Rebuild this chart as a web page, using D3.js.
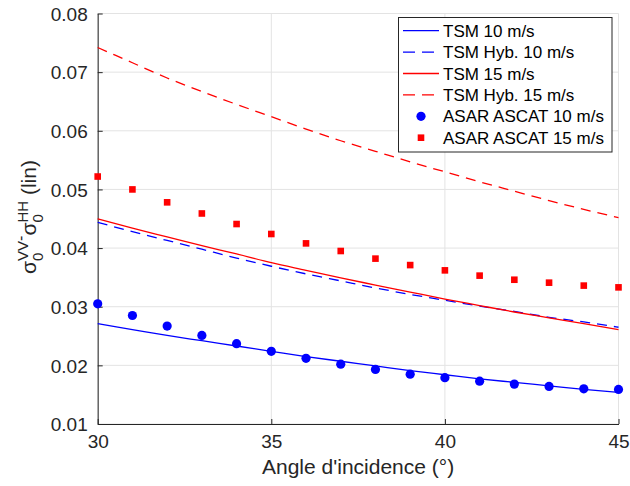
<!DOCTYPE html>
<html>
<head>
<meta charset="utf-8">
<script src="https://cdn.jsdelivr.net/npm/d3@7"></script>
<style>
  html, body { margin: 0; padding: 0; background: #fff; }
  svg { display: block; font-family: "Liberation Sans", Arial, Helvetica, sans-serif; }
</style>
</head>
<body>
<svg id="chart" width="630" height="486"></svg>
<script>
// ---- Data ----
const angles = [30,31,32,33,34,35,36,37,38,39,40,41,42,43,44,45];
const tsm10    = [0.0271,0.0261,0.0251,0.0242,0.0233,0.0224,0.0215,0.0207,0.0199,0.0191,0.0184,0.0177,0.0171,0.0165,0.0159,0.0154];
const tsmHyb10 = [0.0444,0.0428,0.0413,0.0398,0.0383,0.0369,0.0356,0.0344,0.0332,0.0321,0.0311,0.0301,0.0292,0.0282,0.0274,0.0265];
const tsm15    = [0.0450,0.0434,0.0419,0.0404,0.0390,0.0375,0.0362,0.0349,0.0337,0.0325,0.0313,0.0302,0.0291,0.0281,0.0271,0.0261];
const tsmHyb15 = [0.0742,0.0716,0.0690,0.0667,0.0645,0.0624,0.0603,0.0583,0.0565,0.0547,0.0530,0.0513,0.0497,0.0481,0.0466,0.0452];
const asar10   = [0.0305,0.0285,0.0267,0.0251,0.0237,0.0224,0.0212,0.0202,0.0193,0.0185,0.0179,0.0173,0.0168,0.0164,0.0160,0.0159];
const asar15   = [0.0522,0.0500,0.0478,0.0459,0.0441,0.0424,0.0408,0.0395,0.0382,0.0371,0.0362,0.0353,0.0346,0.0341,0.0336,0.0333];
const xTicks = [30,35,40,45];
const yTicks = [0.01,0.02,0.03,0.04,0.05,0.06,0.07,0.08];
const legendLabels = ["TSM 10 m/s","TSM Hyb. 10 m/s","TSM 15 m/s","TSM Hyb. 15 m/s","ASAR ASCAT 10 m/s","ASAR ASCAT 15 m/s"];

// ---- Layout ----
const svg = d3.select("#chart");
const L = 97.7, R = 618.5, T = 13.5, B = 424;
const x = d3.scaleLinear().domain([30,45]).range([L,R]);
const y = d3.scaleLinear().domain([0.01,0.08]).range([B,T]);
const axisCol = "#262626", gridCol = "#e3e3e3";

// grid
const g = svg.append("g");
g.selectAll(".gx").data(xTicks).join("line")
  .attr("x1", d=>x(d)).attr("x2", d=>x(d)).attr("y1", T).attr("y2", B)
  .attr("stroke", gridCol).attr("stroke-width", 1);
g.selectAll(".gy").data(yTicks).join("line")
  .attr("x1", L).attr("x2", R).attr("y1", d=>y(d)).attr("y2", d=>y(d))
  .attr("stroke", gridCol).attr("stroke-width", 1);

// axes
const xAxis = svg.append("g").attr("transform", `translate(0,${B})`)
  .call(d3.axisBottom(x).tickValues(xTicks).tickSizeInner(-5).tickSizeOuter(0).tickPadding(10).tickFormat(d3.format("d")));
const yAxis = svg.append("g").attr("transform", `translate(${L},0)`)
  .call(d3.axisLeft(y).tickValues(yTicks).tickSizeInner(-5).tickSizeOuter(0).tickPadding(10).tickFormat(d3.format(".2f")));
[xAxis, yAxis].forEach(a => {
  a.select(".domain").attr("stroke", axisCol).attr("stroke-width", 1);
  a.selectAll(".tick line").attr("stroke", axisCol);
  a.selectAll(".tick text").attr("fill", axisCol).style("font-size", "19px")
   .style("font-family", '"Liberation Sans", Arial, sans-serif');
});
xAxis.selectAll(".tick text").attr("dy", "0.72em");
yAxis.selectAll(".tick text").attr("dy", "0.35em");

// lines
const line = d3.line().x((d,i)=>x(angles[i])).y(d=>y(d)).curve(d3.curveMonotoneX);
const series = [
  {v: tsm10, c: "#0000ff", dash: null},
  {v: tsmHyb10, c: "#0000ff", dash: "10,7"},
  {v: tsm15, c: "#ff0000", dash: null},
  {v: tsmHyb15, c: "#ff0000", dash: "10,7"}
];
series.forEach(s => {
  svg.append("path").datum(s.v).attr("d", line)
    .attr("fill", "none").attr("stroke", s.c).attr("stroke-width", 1.3)
    .attr("stroke-dasharray", s.dash);
});

// markers
svg.append("g").selectAll("circle").data(asar10).join("circle")
  .attr("cx", (d,i)=>x(angles[i])).attr("cy", d=>y(d)).attr("r", 4.6).attr("fill", "#0000ff");
const sq = 6.6;
svg.append("g").selectAll("rect").data(asar15).join("rect")
  .attr("x", (d,i)=>x(angles[i]) - sq/2).attr("y", d=>y(d) - sq/2)
  .attr("width", sq).attr("height", sq).attr("fill", "#ff0000");

// x label
svg.append("text").attr("x", (L+R)/2).attr("y", 474).attr("text-anchor", "middle")
  .attr("fill", axisCol).style("font-size", "21px").text("Angle d'incidence (°)");

// y label
const yl = svg.append("text").attr("transform", "translate(35.5,217) rotate(-90)")
  .attr("text-anchor", "middle").attr("fill", axisCol).style("font-size", "21px");
yl.append("tspan").text("σ");
yl.append("tspan").style("font-size", "15px").attr("dy", 7.5).text("0");
yl.append("tspan").style("font-size", "15px").attr("dx", -8.3).attr("dy", -15.5).text("VV");
yl.append("tspan").style("font-size", "16px").attr("dy", -2).text("-");
yl.append("tspan").attr("dy", 10).text("σ");
yl.append("tspan").style("font-size", "15px").attr("dy", 7.5).text("0");
yl.append("tspan").style("font-size", "15px").attr("dx", -8.3).attr("dy", -15.5).text("HH");
yl.append("tspan").attr("dy", 8).text(" (lin)");

// legend
const lg = svg.append("g");
lg.append("rect").attr("x", 398.5).attr("y", 17.5).attr("width", 213.5).attr("height", 134.5)
  .attr("fill", "#fff").attr("stroke", axisCol).attr("stroke-width", 1);
const ly0 = 30.7, lstep = 21.4;
legendLabels.forEach((lab, i) => {
  const yy = ly0 + i*lstep;
  if (i < 4) {
    const s = series[i];
    lg.append("line").attr("x1", 403).attr("x2", 439).attr("y1", yy).attr("y2", yy)
      .attr("stroke", s.c).attr("stroke-width", 1.3).attr("stroke-dasharray", s.dash ? "12,7" : null);
  } else if (i === 4) {
    lg.append("circle").attr("cx", 421).attr("cy", yy).attr("r", 4.6).attr("fill", "#0000ff");
  } else {
    lg.append("rect").attr("x", 421 - sq/2).attr("y", yy - sq/2).attr("width", sq).attr("height", sq).attr("fill", "#ff0000");
  }
  lg.append("text").attr("x", 443).attr("y", yy).attr("dy", "0.36em")
    .attr("fill", "#000").style("font-size", "17px").text(lab);
});
</script>
</body>
</html>
